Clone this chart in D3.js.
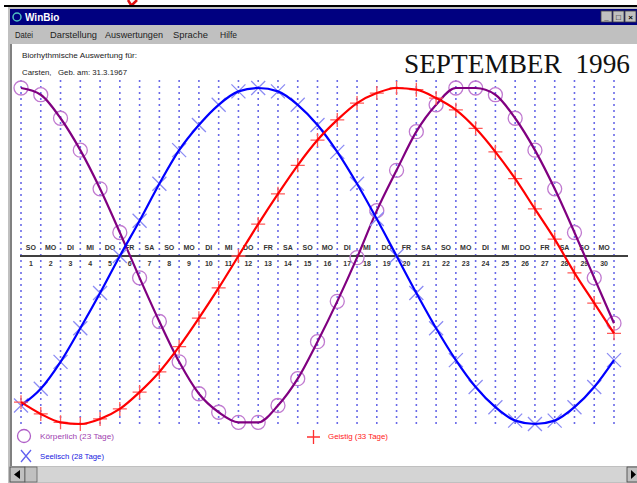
<!DOCTYPE html>
<html lang="de">
<head>
<meta charset="utf-8">
<title>WinBio</title>
<script src="https://cdn.jsdelivr.net/npm/d3@7"></script>
<style>
  body { margin: 0; background: #fff; }
  svg text { font-family: "Liberation Sans", Arial, sans-serif; white-space: pre; }
</style>
</head>
<body>
<div id="chart"></div>
<script>
"use strict"

// Tage im September 1996 und Wochentage
var tage = [1,2,3,4,5,6,7,8,9,10,11,12,13,14,15,16,17,18,19,20,21,22,23,24,25,26,27,28,29,30];
var wochentage = ["SO","MO","DI","MI","DO","FR","SA","SO","MO","DI","MI","DO","FR","SA","SO",
                  "MO","DI","MI","DO","FR","SA","SO","MO","DI","MI","DO","FR","SA","SO","MO"];

var koerperlich = [100,96,82,63,40,14,-13,-39,-63,-82,-93,-99,-99,-89,-73,-51,-27,-1,27,51,74,90,100,100,96,82,63,40,14,-13,-40];
var seelisch    = [-89,-79,-63,-43,-22,0,21,43,63,78,90,98,100,98,90,78,62,43,22,0,-22,-43,-62,-78,-90,-98,-100,-98,-90,-78,-62];
var geistig     = [-87,-94,-99,-100,-97,-91,-81,-69,-54,-37,-19,0,19,37,54,69,81,91,97,100,99,94,87,76,62,46,28,10,-10,-28,-46];

var W = 637, H = 483;
var svg = d3.select('#chart').append('svg').attr('width', W).attr('height', H);

// ---- Fensterrahmen ----
// Rest eines roten Buchstabens oberhalb des Fensters
svg.append('path').attr('d', 'M128,0 L131,5 M137,0 L131,6 L128,9')
   .attr('stroke', '#e01010').attr('stroke-width', 2.5).attr('fill', 'none');
svg.append('rect').attr('x', 4).attr('y', 5).attr('width', W).attr('height', 2).attr('fill', '#000');
svg.append('rect').attr('x', 8).attr('y', 7).attr('width', W).attr('height', H).attr('fill', '#c0c0c0');
svg.append('rect').attr('x', 10).attr('y', 9).attr('width', W).attr('height', 16).attr('fill', '#000080');
svg.append('circle').attr('cx', 17).attr('cy', 17).attr('r', 4).attr('fill', 'none').attr('stroke', '#50c0c0').attr('stroke-width', 1.5);
svg.append('text').attr('x', 25).attr('y', 21).text('WinBio')
   .attr('fill', '#fff').style('font-size', '10px').style('font-weight', 'bold');
[601, 613, 625].forEach(function (bx, i) {
  svg.append('rect').attr('x', bx).attr('y', 11).attr('width', 11).attr('height', 11)
     .attr('fill', '#c0c0c0').attr('stroke', '#404040').attr('stroke-width', 0.8);
  svg.append('text').attr('x', bx + 5.5).attr('y', 20).attr('text-anchor', 'middle')
     .style('font-size', '8px').style('font-weight', 'bold').text(['_', '□', '×'][i]);
});
var menue = [["Datei", 15, 18], ["Darstellung", 50, 47], ["Auswertungen", 105, 58], ["Sprache", 173, 35], ["Hilfe", 220, 17]];
menue.forEach(function (m) {
  svg.append('text').attr('x', m[1]).attr('y', 38).text(m[0])
     .attr('textLength', m[2]).attr('lengthAdjust', 'spacingAndGlyphs')
     .attr('fill', '#222').style('font-size', '9px');
});
svg.append('rect').attr('x', 12).attr('y', 44).attr('width', W - 12).attr('height', 422).attr('fill', '#fff');
svg.append('rect').attr('x', 10).attr('y', 44).attr('width', 2).attr('height', 422).attr('fill', '#808080');

// Scrollbar unten
svg.append('rect').attr('x', 10).attr('y', 467).attr('width', W).attr('height', 15).attr('fill', '#d4d4d4');
svg.append('rect').attr('x', 10).attr('y', 467).attr('width', 15).attr('height', 15).attr('fill', '#c0c0c0').attr('stroke', '#404040').attr('stroke-width', 0.8);
svg.append('path').attr('d', 'M20,470 L14,474.5 L20,479 Z').attr('fill', '#000');
svg.append('rect').attr('x', 25).attr('y', 467).attr('width', 12).attr('height', 15).attr('fill', '#c0c0c0').attr('stroke', '#606060').attr('stroke-width', 0.8);
svg.append('rect').attr('x', 627).attr('y', 467).attr('width', 12).attr('height', 15).attr('fill', '#c0c0c0').attr('stroke', '#404040').attr('stroke-width', 0.8);
svg.append('path').attr('d', 'M631,470 L636,474.5 L631,479 Z').attr('fill', '#000');

// ---- Kopftexte ----
svg.append('text').attr('x', 22).attr('y', 58).text('Biorhythmische Auswertung für:')
   .attr('textLength', 115).attr('lengthAdjust', 'spacingAndGlyphs').style('font-size', '8px').attr('fill', '#222');
svg.append('text').attr('x', 22).attr('y', 75).text('Carsten,   Geb. am: 31.3.1967')
   .attr('textLength', 105).attr('lengthAdjust', 'spacingAndGlyphs').style('font-size', '8px').attr('fill', '#222');
svg.append('text').attr('x', 630).attr('y', 73).attr('text-anchor', 'end').text('SEPTEMBER  1996')
   .attr('textLength', 226).attr('lengthAdjust', 'spacingAndGlyphs')
   .style('font-family', '"Liberation Serif", "Times New Roman", serif').style('font-size', '27px').attr('fill', '#111');

// ---- Skalen ----
var x = d3.scaleLinear().domain([0, 30]).range([21, 614]);
var xBand = d3.scaleBand().domain(tage).range([21, 614]);
var y = d3.scaleLinear().domain([-100, 100]).range([424, 88]);

// gepunktete Tageslinien
svg.append('g').selectAll('line').data(d3.range(0, 31)).enter().append('line')
   .attr('x1', d => x(d)).attr('x2', d => x(d))
   .attr('y1', 80).attr('y2', 428)
   .attr('stroke', '#6a6ae8').attr('stroke-width', 1.6).attr('stroke-dasharray', '2,4');

// Nulllinie
svg.append('line').attr('x1', 20).attr('x2', 628).attr('y1', y(0)).attr('y2', y(0))
   .attr('stroke', '#404040').attr('stroke-width', 2);

// Wochentage und Tageszahlen
var lab = svg.append('g').style('font-size', '7px').style('font-weight', 'bold').attr('fill', '#333').attr('text-anchor', 'middle');
lab.selectAll('.wt').data(tage).enter().append('text').attr('class', 'wt')
   .attr('x', d => xBand(d) + xBand.bandwidth() / 2).attr('y', y(0) - 6)
   .text((d, i) => wochentage[i]);
lab.selectAll('.tz').data(tage).enter().append('text').attr('class', 'tz')
   .attr('x', d => xBand(d) + xBand.bandwidth() / 2).attr('y', y(0) + 10)
   .text(d => d);

// ---- Kurven ----
var linie = d3.line().x((d, i) => x(i)).y(d => y(d)).curve(d3.curveMonotoneX);

function kreuz(g, daten, farbe) {
  g.selectAll('path.m').data(daten).enter().append('path').attr('class', 'm')
   .attr('d', (d, i) => { var cx = x(i), cy = y(d), s = 7; return 'M' + (cx - s) + ',' + (cy - s) + 'L' + (cx + s) + ',' + (cy + s) + 'M' + (cx - s) + ',' + (cy + s) + 'L' + (cx + s) + ',' + (cy - s); })
   .attr('stroke', farbe).attr('stroke-width', 1.3).attr('fill', 'none');
}
function plus(g, daten, farbe) {
  g.selectAll('path.m').data(daten).enter().append('path').attr('class', 'm')
   .attr('d', (d, i) => { var cx = x(i), cy = y(d), s = 7; return 'M' + (cx - s) + ',' + cy + 'L' + (cx + s) + ',' + cy + 'M' + cx + ',' + (cy - s) + 'L' + cx + ',' + (cy + s); })
   .attr('stroke', farbe).attr('stroke-width', 1.3).attr('fill', 'none');
}

var gK = svg.append('g'), gS = svg.append('g'), gG = svg.append('g');
gK.selectAll('circle').data(koerperlich).enter().append('circle')
  .attr('cx', (d, i) => x(i)).attr('cy', d => y(d)).attr('r', 7)
  .attr('fill', 'none').attr('stroke', '#c07ad0').attr('stroke-width', 1.3);
kreuz(gS, seelisch, '#8c8cf4');
plus(gG, geistig, '#ff5a5a');

gG.append('path').datum(geistig).attr('d', linie).attr('fill', 'none').attr('stroke', '#ff0000').attr('stroke-width', 2.2);
gS.append('path').datum(seelisch).attr('d', linie).attr('fill', 'none').attr('stroke', '#0000ff').attr('stroke-width', 2.2);
gK.append('path').datum(koerperlich).attr('d', linie).attr('fill', 'none').attr('stroke', '#800080').attr('stroke-width', 2.2);

// ---- Legende ----
svg.append('circle').attr('cx', 24).attr('cy', 436).attr('r', 6.5).attr('fill', 'none').attr('stroke', '#b060c8').attr('stroke-width', 1.3);
svg.append('text').attr('x', 40).attr('y', 439).text('Körperlich (23 Tage)')
   .attr('textLength', 74).attr('lengthAdjust', 'spacingAndGlyphs').style('font-size', '8px').attr('fill', '#a040b0');
svg.append('path').attr('d', 'M21,450 L31,462 M21,462 L31,450').attr('stroke', '#6060f0').attr('stroke-width', 1.3);
svg.append('text').attr('x', 40).attr('y', 459).text('Seelisch (28 Tage)')
   .attr('textLength', 64).attr('lengthAdjust', 'spacingAndGlyphs').style('font-size', '8px').attr('fill', '#2020e0');
svg.append('path').attr('d', 'M307,437 L320,437 M313.5,430 L313.5,444').attr('stroke', '#ff3030').attr('stroke-width', 1.3);
svg.append('text').attr('x', 328).attr('y', 439).text('Geistig (33 Tage)')
   .attr('textLength', 60).attr('lengthAdjust', 'spacingAndGlyphs').style('font-size', '8px').attr('fill', '#ff2020');
</script>
</body>
</html>
